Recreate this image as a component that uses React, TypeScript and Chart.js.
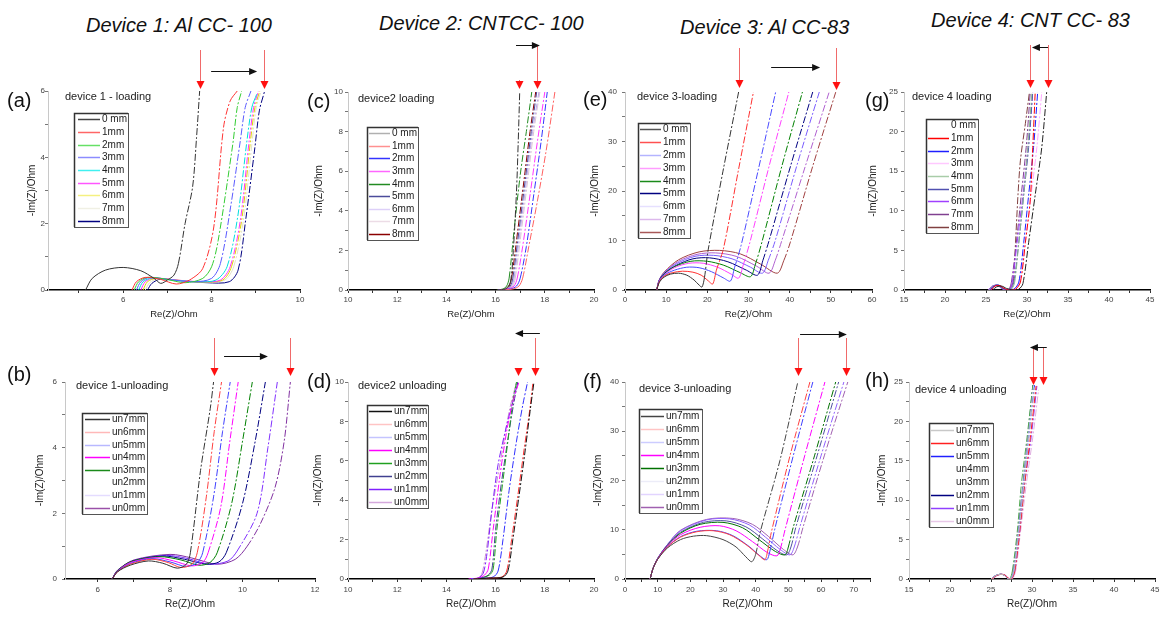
import React, { useEffect, useRef } from 'react';
import { Chart, registerables } from 'chart.js';
Chart.register(...registerables);

type Pt = [number, number];
const FONT = '"Liberation Sans", Arial, sans-serif';

// ---------- Panel (a): device 1 loading ----------
const aLabels = ['0 mm', '1mm', '2mm', '3mm', '4mm', '5mm', '6mm', '7mm', '8mm'];
const aColors = ['#333333', '#ff3333', '#33cc33', '#5a5aff', '#00dede', '#ff33ff', '#e0d400', '#e2e2c8', '#000080'];
const aLegendColors = ['#444444', '#ff6666', '#66e066', '#8c8cff', '#40f0f0', '#ff55ff', '#f4f080', '#f0f0e4', '#000080'];
const aXMajor = [6, 8, 10];
const aXMinor = [5, 7, 9];
const aYMajor = [0, 2, 4, 6];
const aYMinor = [1, 3, 5];
const aSeries: Pt[][] = [
  [[5.15, 0], [5.3, 0.35], [5.6, 0.6], [6.0, 0.68], [6.4, 0.58], [6.7, 0.35], [6.85, 0.2], [7.0, 0.3], [7.15, 0.45], [7.25, 0.8], [7.4, 2.0], [7.57, 3.1], [7.66, 4.6], [7.73, 6]],
  [[6.2, 0], [6.3, 0.25], [6.5, 0.38], [6.85, 0.32], [7.2, 0.18], [7.5, 0.3], [7.8, 0.65], [8.05, 1.9], [8.27, 4.9], [8.42, 5.7], [8.58, 6]],
  [[6.25, 0], [6.35, 0.25], [6.55, 0.38], [6.95, 0.33], [7.4, 0.22], [7.8, 0.35], [8.0, 0.7], [8.15, 1.5], [8.48, 4.4], [8.58, 5.5], [8.68, 6]],
  [[6.3, 0], [6.4, 0.25], [6.6, 0.38], [7.0, 0.32], [7.6, 0.25], [8.0, 0.35], [8.2, 0.8], [8.43, 2.5], [8.65, 4.5], [8.76, 5.5], [8.89, 6]],
  [[6.35, 0], [6.45, 0.25], [6.65, 0.36], [7.1, 0.3], [7.7, 0.25], [8.1, 0.3], [8.35, 0.7], [8.59, 2.2], [8.8, 4.5], [8.91, 5.5], [9.02, 5.9]],
  [[6.4, 0], [6.5, 0.25], [6.7, 0.36], [7.2, 0.3], [7.8, 0.25], [8.2, 0.3], [8.42, 0.7], [8.65, 2.1], [8.85, 4.5], [8.95, 5.5], [9.06, 6]],
  [[6.45, 0], [6.55, 0.25], [6.75, 0.35], [7.2, 0.3], [7.8, 0.24], [8.25, 0.3], [8.45, 0.7], [8.68, 2.1], [8.88, 4.5], [8.98, 5.5], [9.09, 6]],
  [[6.5, 0], [6.6, 0.22], [6.8, 0.34], [7.3, 0.28], [7.9, 0.24], [8.3, 0.3], [8.5, 0.7], [8.72, 2.1], [8.92, 4.5], [9.01, 5.5], [9.12, 6]],
  [[6.55, 0], [6.65, 0.2], [6.85, 0.33], [7.3, 0.28], [7.9, 0.22], [8.4, 0.25], [8.6, 0.6], [8.77, 2.1], [8.98, 4.3], [9.08, 5.4], [9.2, 6]],
];

// ---------- Panel (c): device 2 loading ----------
const cLabels = ['0 mm', '1mm', '2mm', '3mm', '4mm', '5mm', '6mm', '7mm', '8mm'];
const cColors = ['#333333', '#ff6060', '#3333ff', '#ff33ff', '#228b22', '#4b4b9b', '#b8a4ec', '#dcc4d4', '#8b0000'];
const cLegendColors = ['#b0b0b0', '#ff9090', '#3333ff', '#ff66ff', '#228b22', '#4b4b9b', '#ddd0f8', '#ecdce6', '#8b0000'];
const cXMajor = [10, 12, 14, 16, 18, 20];
const cXMinor = [11, 13, 15, 17, 19];
const cYMajor = [0, 2, 4, 6, 8, 10];
const cYMinor = [1, 3, 5, 7, 9];
const cSeries: Pt[][] = [
  [[16.05, 0], [16.4, 0.05], [16.6, 0.4], [16.72, 2], [16.85, 5], [16.92, 7.5], [16.98, 10]],
  [[16.15, 0], [16.7, 0.05], [16.95, 0.2], [17.1, 0.6], [17.35, 2.2], [17.7, 4.5], [18.05, 7], [18.41, 10]],
  [[16.1, 0], [16.6, 0.05], [16.85, 0.2], [17.0, 0.6], [17.25, 2.2], [17.55, 4.8], [17.85, 7.5], [18.1, 10]],
  [[16.1, 0], [16.5, 0.05], [16.75, 0.2], [16.88, 0.6], [17.1, 2.2], [17.4, 4.8], [17.7, 7.5], [18.0, 10]],
  [[16.05, 0], [16.3, 0.05], [16.45, 0.2], [16.55, 0.6], [16.75, 3], [17.0, 5.8], [17.25, 8], [17.47, 10]],
  [[16.1, 0], [16.45, 0.05], [16.6, 0.2], [16.7, 0.6], [16.95, 3], [17.2, 5.5], [17.45, 8], [17.67, 10]],
  [[16.1, 0], [16.5, 0.05], [16.65, 0.2], [16.75, 0.6], [17.0, 3], [17.25, 5.5], [17.5, 8], [17.76, 10]],
  [[16.1, 0], [16.55, 0.05], [16.7, 0.2], [16.8, 0.6], [17.05, 3], [17.3, 5.5], [17.55, 8], [17.8, 10]],
  [[16.05, 0], [16.4, 0.05], [16.55, 0.2], [16.65, 0.6], [16.9, 3], [17.15, 5.5], [17.4, 8], [17.63, 10]],
];

// ---------- Panel (e): device 3 loading ----------
const eLabels = ['0 mm', '1mm', '2mm', '3mm', '4mm', '5mm', '6mm', '7mm', '8mm'];
const eColors = ['#333333', '#ff3030', '#4a4aff', '#ff40ff', '#008000', '#000080', '#7a5cff', '#b060d0', '#a04040'];
const eLegendColors = ['#555555', '#ff5050', '#b4b4ff', '#ff9cff', '#1a8a1a', '#000080', '#e6e0ff', '#dcb8ec', '#a85858'];
const eXMajor = [0, 10, 20, 30, 40, 50, 60];
const eXMinor = [5, 15, 25, 35, 45, 55];
const eYMajor = [0, 10, 20, 30, 40];
const eYMinor = [5, 15, 25, 35];
const eSeries: Pt[][] = [
  [[7.7, 0], [8.3, 1.5], [9.5, 2.6], [11, 3.2], [13, 3.4], [15, 3.0], [16.8, 2.0], [18.0, 1.0], [18.7, 0.6], [19.3, 2.5], [20.2, 8.1], [23.8, 24], [27.6, 40]],
  [[7.7, 0], [8.3, 1.6], [9.5, 2.8], [11.5, 3.5], [14, 3.8], [16.5, 3.6], [18.5, 3.0], [20.3, 1.8], [21.3, 1.2], [22.2, 4], [23.9, 8.3], [27.5, 24], [31.2, 40]],
  [[7.7, 0], [8.3, 1.7], [9.5, 3.0], [12, 4.0], [15, 4.6], [18, 4.5], [21, 3.7], [24, 2.4], [25.6, 1.8], [26.6, 4.5], [28.2, 9], [32.3, 24], [36.6, 40]],
  [[7.7, 0], [8.3, 1.8], [9.5, 3.1], [12, 4.5], [15.5, 5.4], [19, 5.4], [22.5, 4.6], [25.8, 3.2], [27.6, 2.4], [28.7, 5], [30.3, 9.5], [35, 25], [39.8, 40]],
  [[7.7, 0], [8.3, 1.8], [9.5, 3.2], [12, 4.7], [16, 5.8], [20, 5.8], [24, 5.0], [28, 3.5], [30.5, 2.7], [31.6, 5], [33.2, 9.5], [38.1, 25], [43.1, 40]],
  [[7.7, 0], [8.3, 1.9], [9.5, 3.3], [12.5, 5.0], [16.5, 6.3], [20.5, 6.5], [25, 5.7], [29.5, 4.0], [32.2, 3.0], [33.5, 6], [35, 10], [40.2, 25], [45.6, 40]],
  [[7.7, 0], [8.3, 1.9], [9.5, 3.4], [12.5, 5.3], [17, 6.8], [21.5, 7.0], [26, 6.3], [30.5, 4.6], [33.4, 3.4], [34.8, 6], [36.5, 10], [41.7, 25], [47.2, 40]],
  [[7.7, 0], [8.3, 2.0], [9.5, 3.5], [13, 5.8], [17.5, 7.2], [22, 7.5], [27, 6.8], [32, 4.8], [35, 3.4], [36.5, 6], [38.1, 10], [43.8, 25], [49.6, 40]],
  [[7.7, 0], [8.3, 2.0], [9.5, 3.6], [13, 6.1], [18, 7.7], [23, 8.0], [28, 7.3], [33, 5.2], [37, 3.4], [38.6, 6], [40.1, 9.5], [45.6, 25], [51.2, 40]],
];

// ---------- Panel (g): device 4 loading ----------
const gLabels = ['0 mm', '1mm', '2mm', '3mm', '4mm', '5mm', '6mm', '7mm', '8mm'];
const gColors = ['#222222', '#ff0000', '#1e1eff', '#ffa8ff', '#8cbc8c', '#5050b0', '#a040ff', '#804090', '#804040'];
const gLegendColors = ['#ffffff', '#ff0000', '#1e1eff', '#ffc8ff', '#a8cca8', '#5050b0', '#a040ff', '#804090', '#804040'];
const gXMajor = [15, 20, 25, 30, 35, 40, 45];
const gXMinor = [17.5, 22.5, 27.5, 32.5, 37.5, 42.5];
const gYMajor = [0, 5, 10, 15, 20, 25];
const gYMinor = [2.5, 7.5, 12.5, 17.5, 22.5];
const gSeries: Pt[][] = [
  [[25.8, 0], [26.3, 0.4], [26.9, 0.5], [27.5, 0.2], [28.3, 0], [29.0, 0.1], [29.5, 0.8], [30.2, 6], [31.0, 12], [31.8, 18], [32.4, 25]],
  [[25.6, 0], [26.1, 0.5], [26.7, 0.55], [27.2, 0.2], [27.8, 0], [28.6, 0.1], [29.2, 1], [29.8, 6], [30.4, 11.4], [30.7, 18], [31.0, 25]],
  [[25.5, 0], [26.0, 0.5], [26.6, 0.6], [27.1, 0.2], [27.6, 0], [28.4, 0.1], [29.0, 1], [29.6, 6], [30.2, 12], [30.8, 18], [31.3, 25]],
  [[25.6, 0], [26.1, 0.5], [26.7, 0.55], [27.2, 0.2], [27.8, 0], [28.6, 0.1], [29.1, 1], [29.8, 6], [30.5, 12], [31.2, 18], [31.8, 25]],
  [[25.4, 0], [25.9, 0.5], [26.5, 0.6], [27.0, 0.2], [27.5, 0], [28.1, 0.1], [28.5, 1], [29.0, 6], [29.6, 12], [30.1, 18], [30.6, 25]],
  [[25.4, 0], [25.9, 0.5], [26.5, 0.6], [27.0, 0.2], [27.5, 0], [28.0, 0.1], [28.4, 1], [29.0, 6], [29.6, 12], [30.2, 18], [30.7, 25]],
  [[25.3, 0], [25.8, 0.5], [26.4, 0.6], [26.9, 0.2], [27.4, 0], [27.9, 0.1], [28.2, 1], [28.8, 6], [29.5, 12], [30.1, 18], [30.7, 25]],
  [[25.3, 0], [25.8, 0.5], [26.4, 0.6], [26.9, 0.2], [27.4, 0], [27.8, 0.1], [28.1, 1], [28.7, 6], [29.3, 12], [29.9, 18], [30.4, 25]],
  [[25.4, 0], [25.9, 0.5], [26.5, 0.6], [27.0, 0.2], [27.4, 0], [27.8, 0.1], [28.3, 1], [28.6, 6], [28.9, 12], [29.2, 16.4], [29.8, 21], [30.3, 25]],
];

// ---------- Panel (b): device 1 unloading ----------
const bLabels = ['un7mm', 'un6mm', 'un5mm', 'un4mm', 'un3mm', 'un2mm', 'un1mm', 'un0mm'];
const bColors = ['#333333', '#ff4040', '#4040ff', '#ff00ff', '#008000', '#000080', '#8030ff', '#8030a0'];
const bLegendColors = ['#333333', '#ffb8b8', '#b8b8ff', '#ff00ff', '#1a8a1a', '#ffffff', '#e4dcff', '#9a50a8'];
const bXMajor = [6, 8, 10, 12];
const bXMinor = [7, 9, 11];
const bYMajor = [0, 2, 4, 6];
const bYMinor = [1, 3, 5];
const bSeries: Pt[][] = [
  [[6.4, 0], [6.55, 0.22], [6.9, 0.42], [7.4, 0.55], [7.8, 0.48], [8.2, 0.33], [8.45, 0.45], [8.56, 0.8], [8.84, 3.3], [9.11, 5.2], [9.2, 6]],
  [[6.4, 0], [6.55, 0.22], [6.9, 0.45], [7.5, 0.6], [7.95, 0.5], [8.3, 0.35], [8.6, 0.45], [8.75, 0.8], [9.0, 2.5], [9.22, 4.5], [9.42, 6]],
  [[6.4, 0], [6.55, 0.23], [6.9, 0.47], [7.5, 0.62], [8.0, 0.52], [8.45, 0.38], [8.75, 0.5], [8.9, 0.8], [9.2, 2.5], [9.45, 4.5], [9.66, 6]],
  [[6.4, 0], [6.55, 0.24], [6.9, 0.5], [7.6, 0.65], [8.1, 0.55], [8.6, 0.4], [8.9, 0.5], [9.05, 0.8], [9.4, 2.2], [9.65, 4.2], [9.88, 6]],
  [[6.4, 0], [6.55, 0.25], [6.9, 0.52], [7.7, 0.68], [8.3, 0.58], [8.8, 0.42], [9.1, 0.5], [9.3, 0.8], [9.7, 2.3], [10.0, 4.2], [10.27, 6]],
  [[6.4, 0], [6.55, 0.25], [6.95, 0.54], [7.8, 0.7], [8.4, 0.6], [9.0, 0.45], [9.35, 0.52], [9.55, 0.8], [10.0, 2.3], [10.35, 4.2], [10.63, 6]],
  [[6.4, 0], [6.55, 0.26], [7.0, 0.56], [7.9, 0.72], [8.5, 0.62], [9.1, 0.45], [9.6, 0.55], [9.85, 0.85], [10.4, 2.0], [10.7, 4.0], [10.96, 6]],
  [[6.4, 0], [6.55, 0.27], [7.0, 0.58], [8.0, 0.75], [8.6, 0.64], [9.3, 0.45], [9.8, 0.6], [10.13, 1.0], [10.5, 1.7], [10.9, 2.8], [11.15, 4.2], [11.32, 6]],
];

// ---------- Panel (d): device 2 unloading ----------
const dLabels = ['un7mm', 'un6mm', 'un5mm', 'un4mm', 'un3mm', 'un2mm', 'un1mm', 'un0mm'];
const dColors = ['#111111', '#ff3030', '#3030ff', '#ff00ff', '#20a020', '#404090', '#8020ff', '#c890d0'];
const dLegendColors = ['#111111', '#ffc4c4', '#c4c4ff', '#ff00ff', '#20a020', '#404090', '#8020ff', '#d4a8dc'];
const dXMajor = [10, 12, 14, 16, 18, 20];
const dXMinor = [11, 13, 15, 17, 19];
const dYMajor = [0, 2, 4, 6, 8, 10];
const dYMinor = [1, 3, 5, 7, 9];
const dSeries: Pt[][] = [
  [[15.1, 0], [15.8, 0.05], [16.3, 0.1], [16.5, 0.4], [16.7, 2], [16.95, 4.2], [17.2, 6.5], [17.4, 8.5], [17.56, 10]],
  [[15.1, 0], [15.8, 0.05], [16.25, 0.1], [16.45, 0.4], [16.65, 2], [16.9, 4.2], [17.15, 6.5], [17.4, 8.7], [17.52, 10]],
  [[15.0, 0], [15.5, 0.05], [15.9, 0.1], [16.1, 0.4], [16.3, 2], [16.55, 4.5], [16.85, 7], [17.1, 8.8], [17.3, 10]],
  [[14.9, 0], [15.3, 0.05], [15.55, 0.2], [15.7, 0.5], [15.9, 2.5], [16.15, 5], [16.45, 7.5], [16.7, 9], [16.95, 10]],
  [[15.0, 0], [15.4, 0.05], [15.75, 0.2], [15.9, 0.5], [16.05, 2.5], [16.3, 5], [16.55, 7.5], [16.7, 9], [16.85, 10]],
  [[15.0, 0], [15.4, 0.05], [15.7, 0.2], [15.85, 0.5], [16.0, 2.5], [16.25, 5], [16.55, 7.5], [16.75, 9], [16.9, 10]],
  [[15.0, 0], [15.3, 0.05], [15.5, 0.3], [15.65, 1.3], [15.85, 3.5], [16.1, 5.8], [16.45, 7.8], [16.7, 9], [16.9, 10]],
  [[15.0, 0], [15.3, 0.05], [15.45, 0.3], [15.6, 1.3], [15.85, 3.5], [16.2, 6], [16.55, 8.5], [16.85, 10]],
];

// ---------- Panel (f): device 3 unloading ----------
const fLabels = ['un7mm', 'un6mm', 'un5mm', 'un4mm', 'un3mm', 'un2mm', 'un1mm', 'un0mm'];
const fColors = ['#444444', '#ff4040', '#4040ff', '#ff00ff', '#007000', '#5050a0', '#9060ff', '#a060b0'];
const fLegendColors = ['#444444', '#ffc4c4', '#ccccff', '#ff00ff', '#007000', '#ececf8', '#e2d4ff', '#a060b0'];
const fXMajor = [0, 10, 20, 30, 40, 50, 60, 70];
const fXMinor = [5, 15, 25, 35, 45, 55, 65, 75];
const fYMajor = [0, 10, 20, 30, 40];
const fYMinor = [5, 15, 25, 35];
const fSeries: Pt[][] = [
  [[7.7, 0], [8.5, 2], [10, 4], [13, 6.3], [17, 8], [21, 8.7], [25, 8.8], [30, 8], [34, 6.5], [37, 4.5], [38.8, 3.5], [40, 5], [41.3, 9.3], [47.4, 24], [52.9, 40]],
  [[7.7, 0], [8.5, 2], [10, 4], [13, 6.5], [17, 8.5], [22, 9.6], [27, 9.8], [32, 9], [37, 7], [41, 4.8], [42.8, 3.9], [43.6, 5.5], [44.8, 9.5], [50.5, 25], [56.6, 40]],
  [[7.7, 0], [8.5, 2], [10, 4], [13, 6.5], [17, 8.6], [22, 9.7], [28, 9.8], [33, 8.8], [38, 6.6], [41.5, 4.6], [43.4, 3.9], [44.3, 5.5], [45.8, 10], [51.5, 25], [57.5, 40]],
  [[7.7, 0], [8.5, 2], [10, 4.1], [13, 6.7], [17, 9], [23, 10.5], [29, 10.8], [34, 9.8], [39, 7.6], [43.5, 5.4], [46.5, 4.7], [47.5, 6], [49, 10], [55, 25], [61.2, 40]],
  [[7.7, 0], [8.5, 2], [10, 4.1], [13, 6.8], [17, 9.3], [23, 11.1], [30, 11.5], [36, 10.4], [41, 8], [46, 5.6], [49, 4.9], [50, 6.5], [51.5, 10.5], [58, 25], [64.5, 40]],
  [[7.7, 0], [8.5, 2], [10, 4.2], [13, 6.9], [17, 9.5], [24, 11.5], [31, 11.8], [37, 10.6], [42, 8.2], [46.5, 5.8], [49.5, 4.9], [50.8, 6.5], [52.3, 10.5], [58.8, 25], [65.4, 40]],
  [[7.7, 0], [8.5, 2], [10, 4.2], [13, 7], [17, 9.8], [25, 12], [32, 12.2], [38, 11], [43, 8.5], [47.5, 6], [50.5, 4.9], [51.8, 6.5], [53.5, 10.5], [60, 25], [67, 40]],
  [[7.7, 0], [8.5, 2], [10, 4.2], [13, 7], [17, 9.9], [25, 12.1], [33, 12.3], [39, 11.1], [44, 8.6], [48.5, 6], [51.4, 4.9], [52.8, 6.5], [54.5, 10.5], [61, 25], [68.2, 40]],
];

// ---------- Panel (h): device 4 unloading ----------
const hLabels = ['un7mm', 'un6mm', 'un5mm', 'un4mm', 'un3mm', 'un2mm', 'un1mm', 'un0mm'];
const hColors = ['#c0c0c0', '#ff2020', '#2020ff', '#f4f4f4', '#50a850', '#000080', '#9040ff', '#e0b0e0'];
const hLegendColors = ['#c8c8c8', '#ff2020', '#2020ff', '#ffffff', '#ffffff', '#000080', '#9040ff', '#e8c8e8'];
const hXMajor = [15, 20, 25, 30, 35, 40, 45];
const hXMinor = [17.5, 22.5, 27.5, 32.5, 37.5, 42.5];
const hYMajor = [0, 5, 10, 15, 20, 25];
const hYMinor = [2.5, 7.5, 12.5, 17.5, 22.5];
const hSeries: Pt[][] = [
  [[25.0, 0], [25.5, 0.4], [26.1, 0.6], [26.6, 0.5], [27.0, 0.1], [27.4, 0], [27.8, 1], [28.4, 6], [29.0, 12], [29.6, 18], [30.3, 24.3]],
  [[25.1, 0], [25.6, 0.4], [26.2, 0.6], [26.7, 0.5], [27.1, 0.1], [27.5, 0], [27.9, 1], [28.5, 6], [29.1, 12], [29.8, 18], [30.5, 24.5]],
  [[25.0, 0], [25.5, 0.4], [26.1, 0.6], [26.6, 0.5], [27.0, 0.1], [27.4, 0], [27.8, 1], [28.4, 6], [29.0, 12], [29.6, 18], [30.3, 24.6]],
  [[25.0, 0], [25.5, 0.4], [26.1, 0.6], [26.6, 0.5], [27.0, 0.1], [27.4, 0], [27.75, 1], [28.35, 6], [28.95, 12], [29.55, 18], [30.2, 24.5]],
  [[25.0, 0], [25.5, 0.4], [26.1, 0.6], [26.6, 0.5], [27.0, 0.1], [27.3, 0], [27.6, 1], [28.2, 6], [28.7, 12], [29.4, 18], [30.1, 24.6]],
  [[25.0, 0], [25.5, 0.4], [26.1, 0.6], [26.6, 0.5], [27.0, 0.1], [27.4, 0], [27.7, 1], [28.3, 6], [28.9, 12], [29.5, 18], [30.1, 24.6]],
  [[25.1, 0], [25.6, 0.4], [26.2, 0.6], [26.7, 0.5], [27.1, 0.1], [27.5, 0], [27.9, 1], [28.5, 6], [29.1, 12], [29.9, 18], [30.6, 24.5]],
  [[25.2, 0], [25.7, 0.4], [26.3, 0.6], [26.8, 0.5], [27.2, 0.1], [27.6, 0], [28.0, 1], [28.6, 6], [29.3, 12], [30.1, 18], [30.8, 24]],
];

// ---------- layout / annotation specs ----------
interface Panel {
  id: string; letter: string; letterPos: [number, number]; title: string; titlePos: [number, number];
  labels: string[]; colors: string[]; legendColors: string[]; series: Pt[][];
  xRange: [number, number]; yRange: [number, number];
  xMajor: number[]; xMinor: number[]; yMajor: number[]; yMinor: number[];
  area: [number, number, number, number]; canvas: [number, number, number, number];
  yTitleX: number; xTitleY: number; xTitleSize: number; yTickPad: number; xTickPad: number;
  legendBox: [number, number, number, number]; sample: [number, number, number];
  red: { x: number; y0: number; y1: number }[]; black: { x0: number; x1: number; y: number };
}

const panels: Panel[] = [
  { id: 'a', letter: '(a)', letterPos: [7, 100], title: 'device 1 - loading', titlePos: [65, 97],
    labels: aLabels, colors: aColors, legendColors: aLegendColors, series: aSeries,
    xRange: [4.3, 10], yRange: [0, 6], xMajor: aXMajor, xMinor: aXMinor, yMajor: aYMajor, yMinor: aYMinor,
    area: [48, 91, 300, 290], canvas: [0, 30, 310, 300], yTitleX: 32, xTitleY: 314, xTitleSize: 9.5, yTickPad: 0, xTickPad: 2,
    legendBox: [74, 113, 54, 114], sample: [4, 26, 28],
    red: [{ x: 7.74, y0: 50, y1: 89 }, { x: 9.19, y0: 50, y1: 89 }], black: { x0: 7.99, x1: 9.03, y: 71 } },
  { id: 'c', letter: '(c)', letterPos: [307, 101], title: 'device2 loading', titlePos: [358, 99],
    labels: cLabels, colors: cColors, legendColors: cLegendColors, series: cSeries,
    xRange: [10, 20], yRange: [0, 10], xMajor: cXMajor, xMinor: cXMinor, yMajor: cYMajor, yMinor: cYMinor,
    area: [348, 92, 594, 290], canvas: [295, 30, 309, 300], yTitleX: 319, xTitleY: 314, xTitleSize: 9.5, yTickPad: 2, xTickPad: 2,
    legendBox: [367, 127, 51, 113], sample: [2, 23, 25],
    red: [{ x: 16.95, y0: 80, y1: 89 }, { x: 17.68, y0: 46, y1: 89 }], black: { x0: 16.83, x1: 17.8, y: 45 } },
  { id: 'e', letter: '(e)', letterPos: [583, 99], title: 'device 3-loading', titlePos: [637, 97],
    labels: eLabels, colors: eColors, legendColors: eLegendColors, series: eSeries,
    xRange: [0, 60], yRange: [0, 40], xMajor: eXMajor, xMinor: eXMinor, yMajor: eYMajor, yMinor: eYMinor,
    area: [625, 92, 872, 290], canvas: [585, 30, 297, 300], yTitleX: 595, xTitleY: 314, xTitleSize: 9.5, yTickPad: 5, xTickPad: 2,
    legendBox: [638, 123, 52, 115], sample: [2, 23, 25],
    red: [{ x: 27.6, y0: 48, y1: 88 }, { x: 51.2, y0: 48, y1: 90 }], black: { x0: 35.5, x1: 47.4, y: 67 } },
  { id: 'g', letter: '(g)', letterPos: [865, 100], title: 'device 4 loading', titlePos: [912, 97],
    labels: gLabels, colors: gColors, legendColors: gLegendColors, series: gSeries,
    xRange: [15, 45], yRange: [0, 25], xMajor: gXMajor, xMinor: gXMinor, yMajor: gYMajor, yMinor: gYMinor,
    area: [904, 92, 1150, 290], canvas: [862, 30, 299, 300], yTitleX: 873, xTitleY: 314, xTitleSize: 9.5, yTickPad: 3, xTickPad: 2,
    legendBox: [926, 119, 52, 114], sample: [2, 23, 25],
    red: [{ x: 30.4, y0: 45, y1: 88 }, { x: 32.6, y0: 45, y1: 88 }], black: { x0: 32.56, x1: 30.6, y: 47 } },
  { id: 'b', letter: '(b)', letterPos: [7, 374], title: 'device 1-unloading', titlePos: [76, 386],
    labels: bLabels, colors: bColors, legendColors: bLegendColors, series: bSeries,
    xRange: [5.1, 12], yRange: [0, 6], xMajor: bXMajor, xMinor: bXMinor, yMajor: bYMajor, yMinor: bYMinor,
    area: [65, 382, 315, 579], canvas: [0, 320, 325, 297], yTitleX: 40, xTitleY: 604, xTitleSize: 10, yTickPad: 5, xTickPad: 3,
    legendBox: [82, 413, 65, 101], sample: [3, 28, 30],
    red: [{ x: 9.2, y0: 338, y1: 376 }, { x: 11.32, y0: 338, y1: 376 }], black: { x0: 9.49, x1: 10.7, y: 356 } },
  { id: 'd', letter: '(d)', letterPos: [307, 381], title: 'device2 unloading', titlePos: [358, 386],
    labels: dLabels, colors: dColors, legendColors: dLegendColors, series: dSeries,
    xRange: [10, 20], yRange: [0, 10], xMajor: dXMajor, xMinor: dXMinor, yMajor: dYMajor, yMinor: dYMinor,
    area: [348, 382, 594, 579], canvas: [295, 320, 309, 297], yTitleX: 318, xTitleY: 604, xTitleSize: 10, yTickPad: 1, xTickPad: 3,
    legendBox: [367, 405, 61, 103], sample: [2, 25, 27],
    red: [{ x: 16.9, y0: 368, y1: 376 }, { x: 17.6, y0: 338, y1: 376 }], black: { x0: 17.8, x1: 16.79, y: 333 } },
  { id: 'f', letter: '(f)', letterPos: [583, 381], title: 'device 3-unloading', titlePos: [639, 389],
    labels: fLabels, colors: fColors, legendColors: fLegendColors, series: fSeries,
    xRange: [0, 75], yRange: [0, 40], xMajor: fXMajor, xMinor: fXMinor, yMajor: fYMajor, yMinor: fYMinor,
    area: [625, 382, 870, 579], canvas: [585, 320, 297, 297], yTitleX: 598, xTitleY: 604, xTitleSize: 10, yTickPad: 3, xTickPad: 3,
    legendBox: [639, 409, 63, 104], sample: [2, 25, 27],
    red: [{ x: 52.9, y0: 338, y1: 376 }, { x: 67.6, y0: 338, y1: 376 }], black: { x0: 53.6, x1: 67.9, y: 334 } },
  { id: 'h', letter: '(h)', letterPos: [865, 380], title: 'device 4 unloading', titlePos: [915, 390],
    labels: hLabels, colors: hColors, legendColors: hLegendColors, series: hSeries,
    xRange: [15, 45], yRange: [0, 25], xMajor: hXMajor, xMinor: hXMinor, yMajor: hYMajor, yMinor: hYMinor,
    area: [909, 382, 1155, 579], canvas: [862, 320, 299, 297], yTitleX: 882, xTitleY: 604, xTitleSize: 10, yTickPad: 3, xTickPad: 3,
    legendBox: [929, 423, 64, 104], sample: [2, 25, 27],
    red: [{ x: 30.1, y0: 347, y1: 385 }, { x: 31.3, y0: 347, y1: 385 }], black: { x0: 31.8, x1: 29.75, y: 347 } },
];

const deviceTitles = [
  { text: 'Device 1: Al CC- 100', x: 86, y: 25 },
  { text: 'Device 2: CNTCC- 100', x: 379, y: 23 },
  { text: 'Device 3: Al CC-83', x: 680, y: 27 },
  { text: 'Device 4: CNT CC- 83', x: 931, y: 20 },
];

function makeDecor(p: Panel) {
  return {
    id: 'decor_' + p.id,
    afterDraw(chart: any) {
      const ctx: CanvasRenderingContext2D = chart.ctx;
      const [ox, oy] = p.canvas;
      const xs = chart.scales.x;
      ctx.save();
      ctx.font = `11px ${FONT}`;
      ctx.fillStyle = '#222';
      ctx.textBaseline = 'middle';
      ctx.textAlign = 'left';
      ctx.fillText(p.title, p.titlePos[0] - ox, p.titlePos[1] - oy);
      const [lx, ly, lw, lh] = p.legendBox;
      const x0 = lx - ox, y0 = ly - oy;
      ctx.fillStyle = '#ffffff';
      ctx.fillRect(x0, y0, lw, lh);
      ctx.strokeStyle = '#555';
      ctx.lineWidth = 1;
      ctx.strokeRect(x0 + 0.5, y0 + 0.5, lw, lh);
      ctx.strokeStyle = '#333';
      ctx.lineWidth = 1.5;
      ctx.beginPath();
      ctx.moveTo(x0 + 0.5, y0 + lh);
      ctx.lineTo(x0 + 0.5, y0 + 0.5);
      ctx.lineTo(x0 + lw, y0 + 0.5);
      ctx.stroke();
      const rowH = lh / p.labels.length;
      ctx.font = `10px ${FONT}`;
      p.labels.forEach((lab, i) => {
        const yy = Math.round(y0 + rowH * (i + 0.5)) + 0.5;
        ctx.strokeStyle = p.legendColors[i];
        ctx.lineWidth = 1.5;
        ctx.beginPath();
        ctx.moveTo(x0 + p.sample[0], yy);
        ctx.lineTo(x0 + p.sample[1], yy);
        ctx.stroke();
        ctx.fillStyle = '#222';
        ctx.fillText(lab, x0 + p.sample[2], yy);
      });
      p.red.forEach((a) => {
        const px = Math.round(xs.getPixelForValue(a.x)) + 0.5;
        ctx.strokeStyle = '#f06a6a';
        ctx.lineWidth = 1;
        ctx.beginPath();
        ctx.moveTo(px, a.y0 - oy);
        ctx.lineTo(px, a.y1 - oy - 6);
        ctx.stroke();
        ctx.fillStyle = '#ff1010';
        ctx.beginPath();
        ctx.moveTo(px - 4, a.y1 - oy - 8);
        ctx.lineTo(px + 4, a.y1 - oy - 8);
        ctx.lineTo(px, a.y1 - oy);
        ctx.closePath();
        ctx.fill();
      });
      const b = p.black;
      const bx0 = xs.getPixelForValue(b.x0), bx1 = xs.getPixelForValue(b.x1);
      const dir = bx1 > bx0 ? 1 : -1;
      const by = b.y - oy + 0.5;
      ctx.strokeStyle = '#111';
      ctx.lineWidth = 1;
      ctx.beginPath();
      ctx.moveTo(bx0, by);
      ctx.lineTo(bx1 - dir * 6, by);
      ctx.stroke();
      ctx.fillStyle = '#111';
      ctx.beginPath();
      ctx.moveTo(bx1, by);
      ctx.lineTo(bx1 - dir * 8, by - 3.5);
      ctx.lineTo(bx1 - dir * 8, by + 3.5);
      ctx.closePath();
      ctx.fill();
      ctx.restore();
    },
  };
}

function PanelChart({ p }: { p: Panel }) {
  const ref = useRef<HTMLCanvasElement>(null);
  useEffect(() => {
    const [cx, cy, cw, ch] = p.canvas;
    const [L, T, R, B] = p.area;
    const yTitleSize = 10;
    const yLH = yTitleSize * 1.2;
    const xLH = p.xTitleSize * 1.2;
    const yScaleLeft = p.yTitleX - yLH / 2;
    const xScaleBottom = p.xTitleY + xLH / 2;
    const padding = { left: yScaleLeft - cx, top: T - cy, right: cx + cw - R, bottom: cy + ch - xScaleBottom };
    const yWidth = L - yScaleLeft;
    const xHeight = xScaleBottom - B;
    const xAll = [...p.xMajor, ...p.xMinor].sort((u, v) => u - v);
    const yAll = [...p.yMajor, ...p.yMinor].sort((u, v) => u - v);
    const tickFont = { size: 8, family: FONT };
    const ySpan = p.yRange[1] - p.yRange[0];
    const chart = new Chart(ref.current as HTMLCanvasElement, {
      type: 'scatter',
      data: {
        datasets: p.series.map((s, i) => ({
          label: p.labels[i],
          data: s.map(([x, y]) => ({ x, y })),
          borderColor: p.colors[i],
          backgroundColor: p.colors[i],
          borderWidth: 1,
          showLine: true,
          pointRadius: 0,
          tension: 0.3,
          fill: false,
          segment: {
            borderDash: (c: any) => (Math.abs(c.p1.parsed.y - c.p0.parsed.y) / ySpan > 0.08 ? [7, 2, 2, 2] : undefined),
          },
        })),
      },
      options: {
        responsive: false,
        animation: false,
        devicePixelRatio: 1,
        events: [],
        layout: { padding },
        plugins: { legend: { display: false }, tooltip: { enabled: false } },
        scales: {
          x: {
            type: 'linear', position: 'bottom', min: p.xRange[0], max: p.xRange[1],
            afterBuildTicks: (s: any) => { s.ticks = xAll.map((v) => ({ value: v })); },
            afterFit: (s: any) => { s.height = xHeight; s.paddingLeft = 0; s.paddingRight = 0; },
            ticks: {
              autoSkip: false, maxRotation: 0, minRotation: 0, font: tickFont, color: '#444', padding: p.xTickPad,
              callback: (v: any) => (p.xMajor.includes(Number(v)) ? String(v) : ''),
            },
            grid: { display: true, drawOnChartArea: false, drawTicks: true, tickLength: 3, color: '#333' },
            border: { display: true, color: '#000', width: 1.5 },
            title: { display: true, text: 'Re(Z)/Ohm', color: '#222', padding: 0, font: { size: p.xTitleSize, family: FONT, lineHeight: 1.2 } },
          },
          y: {
            type: 'linear', position: 'left', min: p.yRange[0], max: p.yRange[1],
            afterBuildTicks: (s: any) => { s.ticks = yAll.map((v) => ({ value: v })); },
            afterFit: (s: any) => { s.width = yWidth; s.paddingTop = 0; s.paddingBottom = 0; },
            ticks: {
              autoSkip: false, font: tickFont, color: '#444', padding: p.yTickPad,
              callback: (v: any) => (p.yMajor.includes(Number(v)) ? String(v) : ''),
            },
            grid: { display: true, drawOnChartArea: false, drawTicks: true, tickLength: 3, color: '#777' },
            border: { display: true, color: '#c8c8c8', width: 1 },
            title: { display: true, text: '-Im(Z)/Ohm', color: '#222', padding: 0, font: { size: yTitleSize, family: FONT, lineHeight: 1.2 } },
          },
        },
      } as any,
      plugins: [makeDecor(p)],
    });
    return () => chart.destroy();
  }, [p]);
  const [cx, cy, cw, ch] = p.canvas;
  return (
    <canvas ref={ref} width={cw} height={ch}
      style={{ position: 'absolute', left: cx, top: cy, width: cw, height: ch }} />
  );
}

export default function App() {
  return (
    <div style={{ position: 'absolute', left: 0, top: 0, width: 1161, height: 617, background: '#fff', overflow: 'hidden', fontFamily: FONT }}>
      {deviceTitles.map((t) => (
        <div key={t.text} style={{ position: 'absolute', left: t.x, top: t.y - 12, fontSize: 20, lineHeight: '24px', fontStyle: 'italic', color: '#111', whiteSpace: 'nowrap' }}>
          {t.text}
        </div>
      ))}
      {panels.map((p) => (
        <PanelChart key={p.id} p={p} />
      ))}
      {panels.map((p) => (
        <div key={'l' + p.id} style={{ position: 'absolute', left: p.letterPos[0], top: p.letterPos[1] - 12, fontSize: 20, lineHeight: '24px', color: '#111', whiteSpace: 'nowrap' }}>
          {p.letter}
        </div>
      ))}
    </div>
  );
}
